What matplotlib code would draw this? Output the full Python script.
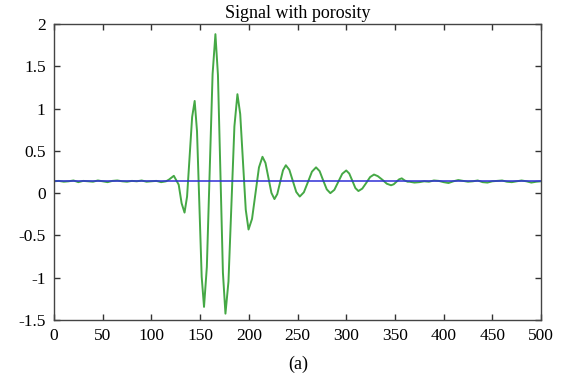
import matplotlib
matplotlib.use("Agg")
import matplotlib.pyplot as plt

# green trace: baseline noise, burst, decaying ring, baseline noise
pre_x = [0, 5, 10, 15, 20, 25, 30, 35, 40, 45, 50, 55, 60, 65, 70, 75, 80, 85,
         90, 95, 100, 105, 110, 115]
pre_y = [0.14, 0.145, 0.135, 0.14, 0.15, 0.13, 0.145, 0.14, 0.135, 0.15, 0.14,
         0.13, 0.145, 0.15, 0.14, 0.135, 0.145, 0.14, 0.15, 0.135, 0.14, 0.145,
         0.13, 0.14]

burst_x = [118, 123, 128, 131, 134, 136.6, 139.2, 141.8, 144.4, 146.8, 149.2,
           151.6, 154, 156.9, 159.85, 162.8, 165.7, 168.3, 170.85, 173.4, 176,
           179.1, 182.15, 185.2, 188.3, 191.15, 194, 196.85, 199.7, 203.3,
           206.85, 210.4, 214, 217.1, 220.15, 223.2, 226.3, 229.2, 232.15,
           235.1, 238, 241.6, 245.15, 248.7, 252.3, 256.5, 260.65, 264.8, 269,
           272.7, 276.35, 280, 283.7, 287.8, 291.85, 295.9, 300, 303.1, 306.25,
           309.4, 312.5, 316.5, 320.5, 324.5, 328.5, 332.4, 337.25, 341.6, 346,
           348.75, 351.5, 354.25, 357, 360, 363]
burst_y = [0.16, 0.205, 0.10, -0.12, -0.23, -0.04, 0.43, 0.90, 1.09, 0.733,
           -0.128, -0.989, -1.345, -0.873, 0.27, 1.408, 1.88, 1.396, 0.23,
           -0.94, -1.425, -1.045, -0.13, 0.79, 1.17, 0.936, 0.37, -0.196, -0.43,
           -0.304, 0.0, 0.304, 0.43, 0.357, 0.18, 0.003, -0.07, -0.011, 0.13,
           0.271, 0.33, 0.276, 0.145, 0.014, -0.04, 0.01, 0.13, 0.254, 0.305,
           0.26, 0.15, 0.045, 0.0, 0.039, 0.134, 0.229, 0.268, 0.232, 0.147,
           0.06, 0.025, 0.054, 0.12, 0.19, 0.22, 0.201, 0.157, 0.112, 0.093,
           0.105, 0.134, 0.163, 0.175, 0.15, 0.135]

post_x = [365, 370, 375, 380, 385, 390, 395, 400, 405, 410, 415, 420, 425, 430,
          435, 440, 445, 450, 455, 460, 465, 470, 475, 480, 485, 490, 495, 500]
post_y = [0.135, 0.125, 0.13, 0.14, 0.135, 0.15, 0.145, 0.13, 0.12, 0.14,
          0.155, 0.145, 0.135, 0.14, 0.15, 0.13, 0.125, 0.14, 0.145, 0.15,
          0.135, 0.13, 0.14, 0.15, 0.14, 0.125, 0.135, 0.14]

# blue reference level
ref_x = [0, 500]
ref_y = [0.14, 0.14]

xticks = [0, 50, 100, 150, 200, 250, 300, 350, 400, 450, 500]
yticks = [-1.5, -1, -0.5, 0, 0.5, 1, 1.5, 2]
ytick_labels = ["-1.5", "-1", "-0.5", "0", "0.5", "1", "1.5", "2"]

plt.rcParams["font.family"] = ["Liberation Serif", "DejaVu Serif"]

fig = plt.figure(figsize=(5.65, 3.77), dpi=100)
ax = fig.add_axes([0.0956, 0.1512, 0.862, 0.7851])

sig_x = pre_x + burst_x + post_x
sig_y = pre_y + burst_y + post_y
ax.plot(sig_x, sig_y, color="#45a845", lw=1.4)
ax.plot(ref_x, ref_y, color="#2f2fd6", lw=1.1)

ax.set_xlim(0, 500)
ax.set_ylim(-1.5, 2)
ax.set_xticks(xticks)
ax.set_xticklabels([str(t) for t in xticks])
ax.set_yticks(yticks)
ax.set_yticklabels(ytick_labels)
ax.tick_params(direction="in", length=4, width=1, color="#333333",
               labelsize=12.5, top=True, right=True)
ax.tick_params(axis="x", pad=6)
ax.tick_params(axis="y", pad=6)
for s in ax.spines.values():
    s.set_color("#444444")
    s.set_linewidth(1)

ax.set_title("Signal with porosity", fontsize=13, pad=4)
fig.text(0.527, 0.034, "(a)", ha="center", va="center", fontsize=13)

fig.savefig("out.png", dpi=100)
